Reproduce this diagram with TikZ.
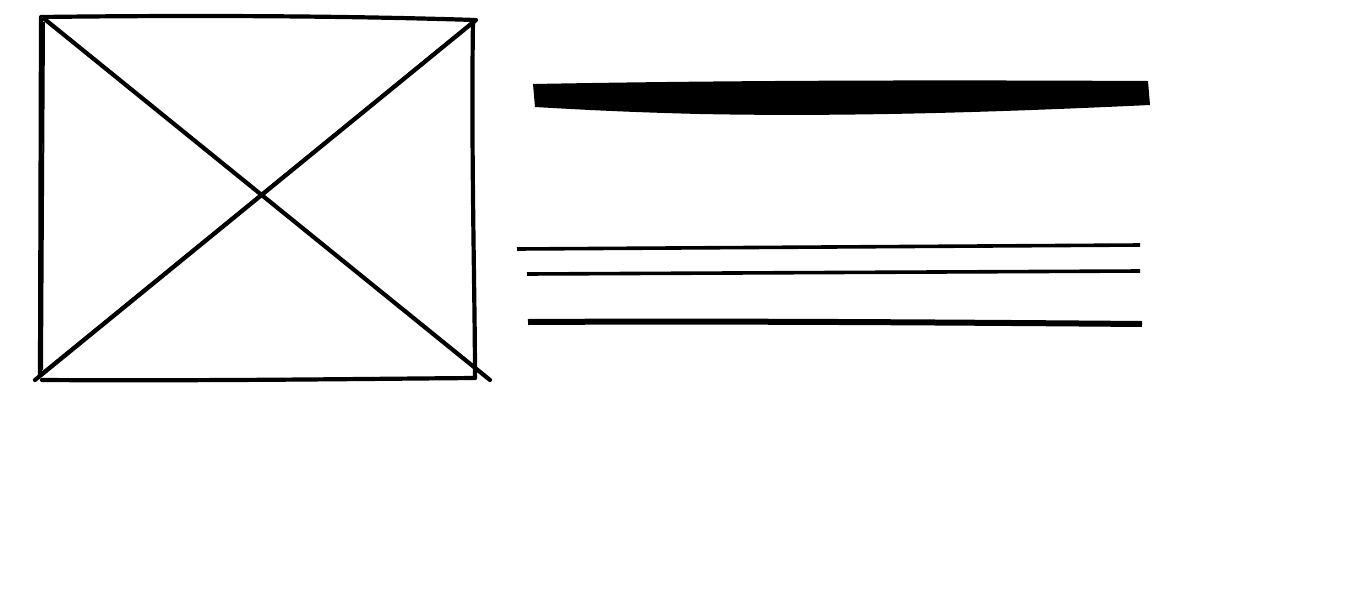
\documentclass[tikz,border=0pt]{standalone}
\begin{document}
\begin{tikzpicture}[x=1pt,y=-1pt,
  stroke/.style={line width=4.2pt,line cap=round,line join=round,black},
  thin stroke/.style={line width=3.6pt,line cap=butt,black}]
\useasboundingbox (0,0) rectangle (1366,600);
% image placeholder box
\coordinate (tl) at (41,17);
\coordinate (tr) at (475,20);
\coordinate (bl) at (40,380);
\coordinate (br) at (475,378);
\draw[stroke] (tl) .. controls (200,15) and (350,16) .. (tr);
\draw[stroke] (41,18) -- (40,375);
\draw[line width=2pt] (44,22) -- (42,370);
\draw[stroke] (473,20) .. controls (471,150) and (475,300) .. (475,378);
\draw[stroke] (42,380) .. controls (200,381) and (350,379) .. (br);
\draw[stroke] (42,17) -- (490,380);
\draw[stroke] (35,380) -- (476,20);
\draw[line width=2pt] (38,376) -- (472,22);
% title bar
\fill (533,84) .. controls (750,80) and (950,80) .. (1148,81)
  -- (1150,105) .. controls (1000,112) and (850,117) .. (700,114)
  .. controls (620,112) and (570,109) .. (535,107) -- cycle;
% text lines
\coordinate (l1a) at (517,249); \coordinate (l1b) at (1140,245);
\coordinate (l2a) at (527,274); \coordinate (l2b) at (1140,271);
\coordinate (l3a) at (528,322); \coordinate (l3b) at (1142,324);
\draw[thin stroke] (l1a) -- (l1b);
\draw[thin stroke] (l2a) -- (l2b);
\draw[line width=6pt] (l3a) .. controls (700,321) and (900,322) .. (l3b);
\end{tikzpicture}
\end{document}
